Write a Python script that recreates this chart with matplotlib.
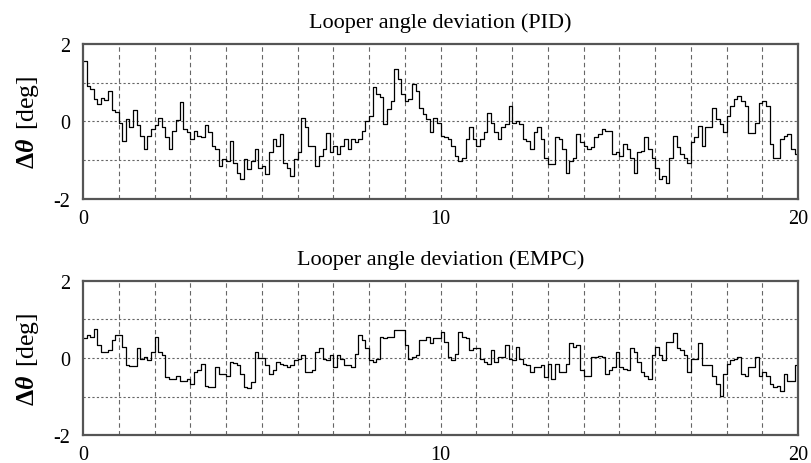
import numpy as np
import matplotlib
matplotlib.use("Agg")
import matplotlib.pyplot as plt

plt.rcParams['font.family'] = ['Liberation Serif', 'DejaVu Serif']
plt.rcParams['mathtext.fontset'] = 'custom'
plt.rcParams['mathtext.rm'] = 'Liberation Serif'
plt.rcParams['mathtext.bf'] = 'Liberation Serif:bold'
plt.rcParams['mathtext.it'] = 'Liberation Serif:italic'
plt.rcParams['mathtext.bfit'] = 'Liberation Serif:bold:italic'
plt.rcParams['axes.unicode_minus'] = False

# sample time of the logged signals [s]
dt = 0.1

# looper angle deviation with PID control, one value per 0.1 s
pid = [1.55, 0.92, 0.84, 0.58, 0.45, 0.6, 0.55, 0.8, 0.3, 0.25,
       -0.05, -0.5, 0.06, -0.15, 0.3, -0.1, -0.37, -0.7, -0.37, -0.2,
       -0.1, 0.1, -0.15, -0.4, -0.7, -0.25, 0.05, 0.5, -0.2, -0.28,
       -0.45, -0.25, -0.37, -0.4, -0.1, -0.28, -0.62, -0.7, -1.15, -0.97,
       -1.02, -0.5, -1.06, -1.32, -1.49, -0.97, -1.23, -1.02, -0.72, -1.19,
       -1.15, -1.36, -0.8, -0.46, -0.63, -0.33, -1.06, -1.19, -1.4, -0.97,
       -0.8, 0.1, -0.15, -0.63, -0.63, -1.15, -0.89, -0.72, -0.3, -0.8,
       -0.63, -0.85, -0.63, -0.46, -0.72, -0.46, -0.54, -0.46, -0.24, 0.02,
       0.15, 0.88, 0.7, 0.62, -0.07, 0.32, 0.53, 1.35, 1.1, 0.7,
       0.53, 0.58, 0.97, 0.8, 0.36, 0.19, 0.06, -0.28, 0.1, -0.03,
       -0.37, -0.41, -0.46, -0.63, -0.89, -1.02, -0.93, -0.46, -0.15, -0.46,
       -0.63, -0.46, -0.28, 0.23, -0.03, -0.28, -0.46, -0.15, -0.07, 0.4,
       -0.03, 0.02, -0.07, -0.46, -0.5, -0.72, -0.28, -0.15, -0.46, -0.93,
       -1.1, -1.1, -0.4, -0.46, -0.72, -1.32, -1.02, -0.93, -0.33, -0.54,
       -0.63, -0.72, -0.67, -0.41, -0.33, -0.2, -0.24, -0.24, -0.85, -0.8,
       -0.89, -0.59, -0.72, -0.93, -1.32, -0.8, -0.76, -0.41, -0.72, -0.93,
       -1.19, -1.49, -1.4, -1.58, -0.93, -0.37, -0.67, -0.85, -0.93, -1.06,
       -0.54, -0.41, -0.11, -0.63, -0.15, -0.13, 0.36, 0.06, -0.07, -0.28,
       0.15, 0.4, 0.58, 0.66, 0.53, 0.4, -0.3, -0.3, -0.03, 0.49,
       0.53, 0.4, -0.59, -0.93, -0.93, -0.46, -0.37, -0.33, -0.72, -0.85,
       -0.85]

# looper angle deviation with EMPC control, one value per 0.1 s
empc = [0.51, 0.6, 0.55, 0.75, 0.33, 0.16, 0.16, 0.2, 0.46, 0.6,
        0.6, 0.29, -0.19, -0.22, -0.22, 0.25, -0.02, 0.03, -0.06, 0.16,
        0.55, 0.16, 0.07, -0.5, -0.54, -0.54, -0.46, -0.59, -0.59, -0.54,
        -0.68, -0.37, -0.32, -0.15, -0.72, -0.76, -0.76, -0.24, -0.41, -0.41,
        -0.46, -0.11, -0.13, -0.19, -0.41, -0.76, -0.78, -0.63, 0.16, 0.0,
        0.0, -0.19, -0.41, -0.32, -0.11, -0.15, -0.19, -0.24, -0.19, -0.06,
        -0.02, 0.07, -0.37, -0.37, -0.32, 0.16, 0.25, -0.02, -0.04, 0.07,
        -0.24, 0.07, -0.02, -0.19, -0.19, -0.24, 0.11, 0.6, 0.46, 0.25,
        -0.06, -0.11, -0.02, 0.55, 0.51, 0.55, 0.55, 0.73, 0.73, 0.73,
        0.33, -0.02, 0.03, 0.07, 0.46, 0.46, 0.55, 0.38, 0.51, 0.51,
        0.68, 0.42, 0.03, -0.04, 0.11, 0.68, 0.55, 0.51, 0.2, 0.25,
        0.25, -0.02, -0.11, -0.15, 0.2, -0.11, 0.03, 0.03, 0.33, -0.02,
        -0.06, 0.29, -0.02, -0.15, -0.19, -0.37, -0.24, -0.24, -0.19, -0.5,
        -0.15, -0.54, -0.15, -0.37, -0.37, -0.15, 0.38, 0.29, 0.33, -0.32,
        -0.46, -0.46, 0.03, 0.03, 0.04, 0.03, -0.41, -0.32, -0.24, 0.16,
        -0.24, -0.28, -0.32, 0.25, 0.16, -0.11, -0.37, -0.46, -0.54, 0.07,
        0.29, 0.07, -0.06, 0.42, 0.42, 0.64, 0.25, 0.2, 0.07, -0.37,
        -0.02, -0.02, 0.38, -0.19, -0.19, -0.19, -0.46, -0.68, -0.98, -0.41,
        -0.15, -0.06, -0.02, 0.03, -0.41, -0.46, -0.24, -0.24, 0.03, -0.46,
        -0.37, -0.46, -0.68, -0.76, -0.72, -0.85, -0.41, -0.59, -0.59, -0.19,
        -0.76]

titles = ["Looper angle deviation (PID)", "Looper angle deviation (EMPC)"]
series = [pid, empc]

fig = plt.figure(figsize=(8.12, 4.64), dpi=100)
boxes = [[0.1022, 0.569, 0.8808, 0.334], [0.1022, 0.0603, 0.8808, 0.332]]

for box, title, vals in zip(boxes, titles, series):
    ax = fig.add_axes(box)
    t = np.arange(len(vals)) * dt
    ax.plot(t, vals, color='black', lw=0.9, drawstyle='steps-post')
    ax.set_xlim(0, 20)
    ax.set_ylim(-2, 2)
    ax.set_xticks([0, 10, 20])
    ax.set_yticks([-2, 0, 2])
    ax.tick_params(which='both', length=0, labelsize=14.5)
    ax.tick_params(axis='x', pad=7)
    ax.tick_params(axis='y', pad=9)
    for x in range(1, 20):
        ax.axvline(x, color='#666666', lw=0.8, ls=(0, (4, 3)), zorder=0)
    for y in (-1, 0, 1):
        ax.axhline(y, color='#666666', lw=0.8, ls=(0, (2, 2)), zorder=0)
    for s in ax.spines.values():
        s.set_color('#555555')
        s.set_linewidth(1.6)
    ax.set_title(title, fontsize=16, pad=12)
    ax.set_ylabel(r'$\mathbf{\Delta}\mathbfit{\theta}\,$ [deg]', fontsize=18.5, labelpad=9)

fig.savefig('out.png', dpi=100)
